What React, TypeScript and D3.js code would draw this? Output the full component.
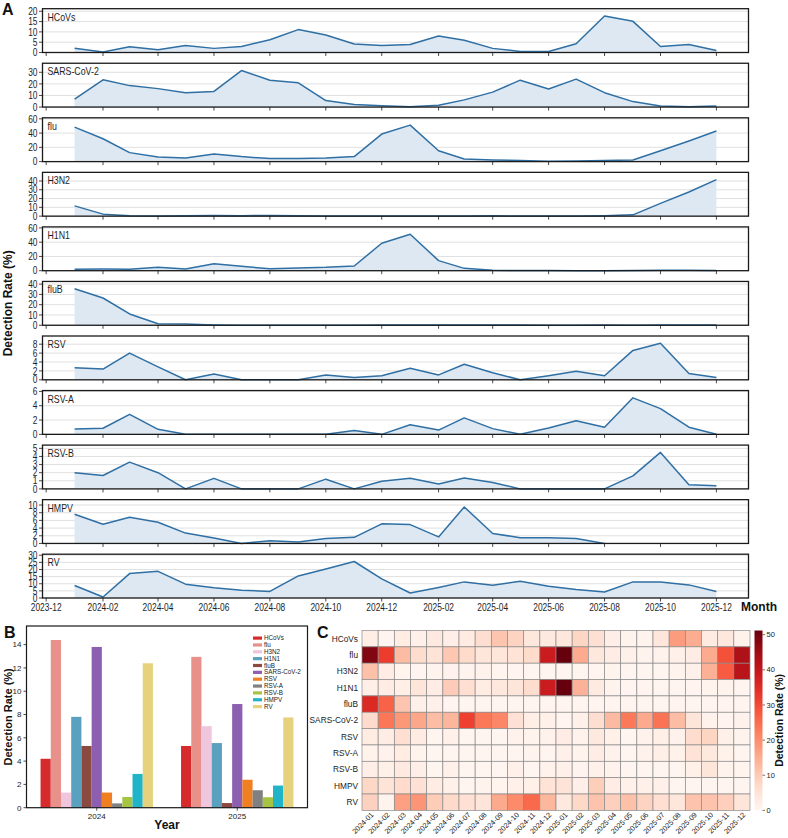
import React from "react";
import * as d3 from "d3";

const months = ["2024-01","2024-02","2024-03","2024-04","2024-05","2024-06","2024-07","2024-08","2024-09","2024-10","2024-11","2024-12",
  "2025-01","2025-02","2025-03","2025-04","2025-05","2025-06","2025-07","2025-08","2025-09","2025-10","2025-11","2025-12"];

const hcovs = [2.1,0.2,2.8,1.3,3.4,2.0,2.9,6.2,11.1,8.5,4.1,3.4, 3.9,8.0,5.9,2.0,0.5,0.5,4.2,17.7,15.1,2.9,3.9,1.0];
const sars = [6.8,23.5,18.5,15.9,12.4,13.5,31.5,23.2,20.9,5.6,2.1,1.2, 0.3,1.5,6.2,12.9,23.2,15.6,24.1,12.4,4.7,0.9,0.3,0.9];
const flu = [48.4,32.1,12.6,6.5,5.1,10.7,7.0,4.2,4.2,5.1,7.0,38.6, 51.2,15.3,3.7,2.3,1.4,0.5,0.9,1.4,2.3,15.3,29.0,43.0];
const h3n2 = [11.7,2.3,0.4,0.2,0.5,0.8,0.5,0.8,0.4,0.2,0.1,0.1, 0.1,0.1,0.2,0.5,0.1,0.1,0.1,0.5,1.5,14.5,27.5,41.5];
const h1n1 = [1.9,2.3,1.9,4.7,2.3,9.9,6.1,2.8,3.8,4.7,6.6,38.5, 51.2,14.1,3.3,0.5,0.2,0.2,0.1,0.1,0.2,0.5,0.5,0.3];
const flub = [35.5,26.5,11.0,1.5,1.2,0.3,0,0,0,0,0,0.3, 0.3,0.3,0.3,0.3,0.2,0,0,0.3,0,0.2,0.3,0.2];
const rsv = [2.7,2.4,6.0,2.9,0,1.3,0,0,0,1.1,0.5,0.9, 2.6,1.1,3.5,1.6,0,0.9,1.9,0.9,6.6,8.2,1.4,0.5];
const rsva = [0.75,0.85,2.8,0.7,0,0,0,0,0,0,0.55,0, 1.35,0.6,2.3,0.8,0,0.9,1.9,1.0,5.1,3.6,1.0,0];
const rsvb = [2.0,1.65,3.3,2.0,0,1.3,0,0,0,1.2,0,0.95, 1.3,0.6,1.35,0.8,0,0,0,0,1.6,4.5,0.5,0.4];
const hmpv: (number | null)[] = [7.6,5.0,6.8,5.5,2.7,1.4,0,0.7,0.4,1.3,1.6,5.1, 4.9,1.7,9.5,2.6,1.5,1.5,1.3,0,null,null,null,null];
const rv = [8.8,0.7,17.1,18.7,9.7,7.2,5.5,4.6,15.5,20.3,25.6,13.4, 3.5,7.4,11.3,9.0,11.8,8.3,6.0,4.2,11.3,11.3,9.2,4.6];

const panelNames = ["HCoVs","SARS-CoV-2","flu","H3N2","H1N1","fluB","RSV","RSV-A","RSV-B","HMPV","RV"];
const panelSeries = [hcovs, sars, flu, h3n2, h1n1, flub, rsv, rsva, rsvb, hmpv, rv];
const panelTickSteps = [5, 10, 20, 10, 20, 10, 2, 2, 1, 2, 5];

const heatRows = ["HCoVs","flu","H3N2","H1N1","fluB","SARS-CoV-2","RSV","RSV-A","RSV-B","HMPV","RV"];

const barYears = ["2024","2025"];
const bar2024 = [4.2,14.4,1.3,7.8,5.3,13.8,1.3,0.37,0.92,2.9,12.4];
const bar2025 = [5.3,12.95,7.0,5.55,0.4,8.9,2.4,1.5,0.9,1.9,7.75];
const barColors = ["#d62a2c","#e8908a","#f0c6de","#5aa0bf","#8c4940","#8d5fb0","#f07f22","#808080","#a6c443","#21b3c8","#e6d27c"];
const barTicks = [0,2,4,6,8,10,12,14];
const cbarTicks = [0,10,20,30,40,50];

const FONT = "'Liberation Sans', Arial, Helvetica, sans-serif";
const NARROW_SX = 0.8;

const utc = (y: number, m: number, d: number) => new Date(Date.UTC(y, m - 1, d));

function NText(props: { x: number; y: number; anchor?: string; size: number; children: React.ReactNode; dy?: string }) {
  const { x, y, anchor = "start", size, children, dy } = props;
  return (
    <text transform={`translate(${x},${y}) scale(${NARROW_SX},1)`} textAnchor={anchor} dy={dy} fontSize={size} fill="#1e1e1e">{children}</text>
  );
}

export default function App() {
  const W = 788, H = 838;
  // ---------- Panel A ----------
  const ax0 = 42.5, ax1 = 748.5;
  const x = d3.scaleUtc().domain([utc(2023, 11, 27), utc(2026, 1, 5)]).range([ax0, ax1]);
  const dates = months.map(m => utc(+m.slice(0, 4), +m.slice(5), 1));
  const xTicks = d3.utcMonth.range(utc(2023, 12, 1), utc(2026, 1, 1), 2);
  const fmt = d3.utcFormat("%Y-%m");
  const top0 = 8.7, step = 54.55, ph = 43.8;

  const panels = panelNames.map((name, i) => {
    const vals = panelSeries[i];
    const top = top0 + step * i;
    const bottom = top + ph;
    const mx = d3.max(vals as number[]) as number;
    const y = d3.scaleLinear().domain([0, mx * 1.2]).range([bottom, top]);
    const ticks = d3.range(0, mx * 1.2 + 1e-9, panelTickSteps[i]);
    const area = d3.area<number | null>()
      .defined(v => v != null)
      .x((_, j) => x(dates[j]))
      .y0(bottom)
      .y1(v => y(v as number));
    const line = d3.line<number | null>()
      .defined(v => v != null)
      .x((_, j) => x(dates[j]))
      .y(v => y(v as number));
    const isLast = i === panelNames.length - 1;
    return (
      <g key={name}>
        {ticks.map(t => (
          <line key={"g" + t} x1={ax0} x2={ax1} y1={y(t)} y2={y(t)} stroke="#e0e0e0" strokeWidth={1} />
        ))}
        <path d={area(vals) || ""} fill="#dde8f3" />
        <path d={line(vals) || ""} fill="none" stroke="#2f6fa3" strokeWidth={1.5} strokeLinejoin="round" />
        <rect x={ax0} y={top} width={ax1 - ax0} height={ph} fill="none" stroke="#1a1a1a" strokeWidth={1.3} />
        {ticks.map(t => (
          <g key={"t" + t}>
            <line x1={ax0 - 3.5} x2={ax0} y1={y(t)} y2={y(t)} stroke="#1a1a1a" strokeWidth={0.8} />
            <NText x={ax0 - 5} y={y(t)} dy="0.35em" anchor="end" size={10.5}>{t}</NText>
          </g>
        ))}
        {xTicks.map(d => (
          <line key={"x" + d.getTime()} x1={x(d)} x2={x(d)} y1={bottom} y2={bottom + 3.5} stroke="#1a1a1a" strokeWidth={0.8} />
        ))}
        {isLast && xTicks.map(d => (
          <NText key={"xl" + d.getTime()} x={x(d)} y={bottom + 13} anchor="middle" size={10.5}>{fmt(d)}</NText>
        ))}
        <NText x={ax0 + 5} y={top + 12} size={11}>{name}</NText>
      </g>
    );
  });
  const aBottom = top0 + step * 10 + ph;

  // ---------- Panel B ----------
  const bx0 = 26.5, bx1 = 307.5, by0 = 626, by1 = 807.7;
  const bxOuter = d3.scaleBand<string>().domain(barYears).range([bx0, bx1]).paddingInner(0.2).paddingOuter(0.1);
  const bxInner = d3.scaleBand<string>().domain(heatRows).range([0, bxOuter.bandwidth()]);
  const by = d3.scaleLinear().domain([0, 15.6]).range([by1, by0]);
  const barData = [bar2024, bar2025];

  // ---------- Panel C ----------
  const hx0 = 362, hx1 = 750, hy0 = 630.5, cellH = 16.35;
  const cellW = (hx1 - hx0) / months.length;
  const hy1 = hy0 + cellH * heatRows.length;
  const seriesByName: Record<string, (number | null)[]> = {};
  panelNames.forEach((n, i) => { seriesByName[n] = panelSeries[i]; });
  const allVals = panelSeries.flat().filter(v => v != null) as number[];
  const cmax = d3.max(allVals) as number;
  const color = d3.scaleSequential(d3.interpolateReds).domain([0, cmax]);
  const cbx0 = 754.5, cbw = 8;
  const cby = d3.scaleLinear().domain([0, cmax]).range([hy1, hy0]);
  const stops = d3.range(0, 1.0001, 0.05);

  return (
    <svg width={W} height={H} style={{ position: "absolute", left: 0, top: 0, display: "block", background: "#fff" }} fontFamily={FONT}>
      <defs>
        <linearGradient id="cbar" x1="0" y1="1" x2="0" y2="0">
          {stops.map(s => <stop key={s} offset={s} stopColor={color(s * cmax)} />)}
        </linearGradient>
      </defs>
      {/* Panel A */}
      <text x={2} y={15} fontSize={16} fontWeight="bold" fill="#111">A</text>
      {panels}
      <text transform={`translate(12,${(top0 + aBottom) / 2}) rotate(-90)`} textAnchor="middle" fontSize={12} fontWeight="bold" fill="#111">Detection Rate (%)</text>
      <text x={741} y={aBottom + 13} fontSize={12} fontWeight="bold" fill="#111">Month</text>

      {/* Panel B */}
      <text x={4} y={638} fontSize={16} fontWeight="bold" fill="#111">B</text>
      {barYears.map((yr, gi) => (
        <g key={yr}>
          {heatRows.map((p, k) => {
            const v = barData[gi][k];
            const bx = (bxOuter(yr) as number) + (bxInner(p) as number);
            return <rect key={p} x={bx} y={by(v)} width={bxInner.bandwidth()} height={by1 - by(v)} fill={barColors[k]} />;
          })}
          <line x1={(bxOuter(yr) as number) + bxOuter.bandwidth() / 2} x2={(bxOuter(yr) as number) + bxOuter.bandwidth() / 2} y1={by1} y2={by1 + 3} stroke="#222" strokeWidth={0.8} />
          <text x={(bxOuter(yr) as number) + bxOuter.bandwidth() / 2} y={by1 + 11} textAnchor="middle" fontSize={8} fill="#222">{yr}</text>
        </g>
      ))}
      <rect x={bx0} y={by0} width={bx1 - bx0} height={by1 - by0} fill="none" stroke="#1a1a1a" strokeWidth={1.2} />
      {barTicks.map(t => (
        <g key={"bt" + t}>
          <line x1={bx0 - 3} x2={bx0} y1={by(t)} y2={by(t)} stroke="#222" strokeWidth={0.8} />
          <text x={bx0 - 5} y={by(t)} dy="0.35em" textAnchor="end" fontSize={8} fill="#222">{t}</text>
        </g>
      ))}
      <text transform={`translate(12,${(by0 + by1) / 2}) rotate(-90)`} textAnchor="middle" fontSize={11} fontWeight="bold" fill="#111">Detection Rate (%)</text>
      <text x={(bx0 + bx1) / 2} y={829} textAnchor="middle" fontSize={12} fontWeight="bold" fill="#111">Year</text>
      {heatRows.map((p, k) => (
        <g key={"lg" + p}>
          <rect x={253} y={636.5 + k * 6.85} width={9} height={3.2} fill={barColors[k]} />
          <text x={264} y={638.1 + k * 6.85} dy="0.33em" fontSize={6.3} fill="#222">{p}</text>
        </g>
      ))}

      {/* Panel C */}
      <text x={317} y={638} fontSize={16} fontWeight="bold" fill="#111">C</text>
      {heatRows.map((p, r) => (
        <g key={"hr" + p}>
          {months.map((m, c) => {
            const v = seriesByName[p][c];
            return (
              <rect key={m} x={hx0 + c * cellW} y={hy0 + r * cellH} width={cellW} height={cellH}
                fill={color(v == null ? 0 : v)} stroke="#8a8a8a" strokeWidth={0.7} />
            );
          })}
          <text x={hx0 - 4} y={hy0 + (r + 0.5) * cellH} dy="0.35em" textAnchor="end" fontSize={8.3} fill="#222">{p}</text>
        </g>
      ))}
      {months.map((m, c) => {
        const cx = hx0 + (c + 0.5) * cellW + 4;
        const ty = hy1 + 5;
        return (
          <text key={"hx" + m} x={cx} y={ty} transform={`rotate(-45,${cx},${ty})`} textAnchor="end" fontSize={7.3} fill="#222">{m}</text>
        );
      })}
      <rect x={cbx0} y={hy0} width={cbw} height={hy1 - hy0} fill="url(#cbar)" />
      {cbarTicks.map(t => (
        <g key={"cb" + t}>
          <line x1={cbx0 + cbw} x2={cbx0 + cbw + 2.5} y1={cby(t)} y2={cby(t)} stroke="#333" strokeWidth={0.7} />
          <text x={cbx0 + cbw + 4} y={cby(t)} dy="0.35em" fontSize={7.5} fill="#222">{t}</text>
        </g>
      ))}
      <text transform={`translate(783,${(hy0 + hy1) / 2}) rotate(-90)`} textAnchor="middle" fontSize={10.5} fontWeight="bold" fill="#111">Detection Rate (%)</text>
    </svg>
  );
}
